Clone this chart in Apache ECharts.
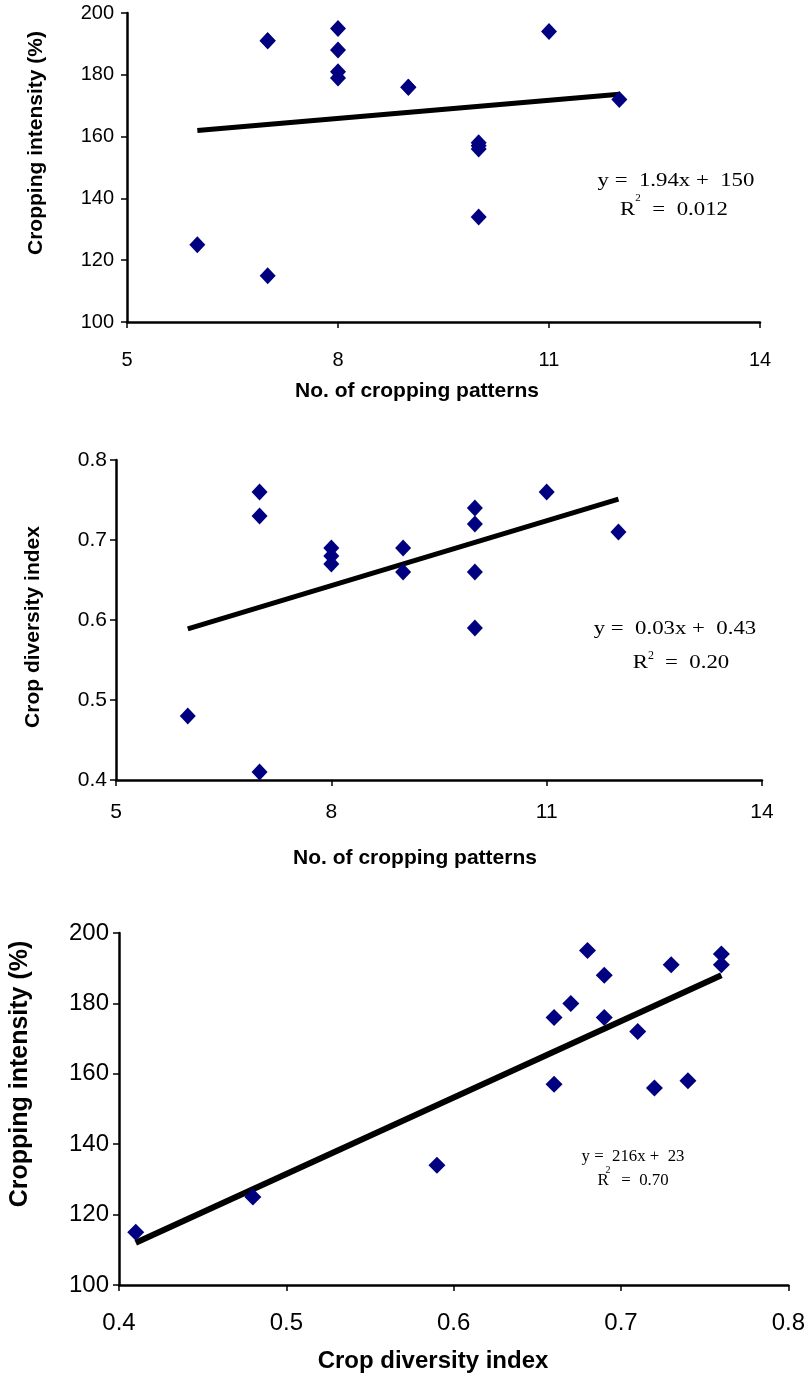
<!DOCTYPE html>
<html>
<head>
<meta charset="utf-8">
<script src="https://cdn.jsdelivr.net/npm/echarts@6/dist/echarts.min.js"></script>
<style>
html,body{margin:0;padding:0;background:#fff;}
#c{width:808px;height:1377px;}
</style>
</head>
<body>
<div id="c"></div>
<script>
// Chart 1: No. of cropping patterns vs Cropping intensity (%)
const patterns1 = [6, 7, 7, 7, 8, 8, 8, 8, 9, 9, 10, 10, 10, 10, 11, 12];
const intensity1 = [125, 191, 191, 115, 195, 188, 181, 179, 176, 176, 158, 157, 156, 134, 194, 172];
const trend1X = [6, 12];
const trend1Y = [162, 173.7];

// Chart 2: No. of cropping patterns vs Crop diversity index
const patterns2 = [6, 7, 7, 7, 8, 8, 8, 9, 9, 10, 10, 10, 10, 11, 12];
const diversity2 = [0.48, 0.76, 0.73, 0.41, 0.69, 0.68, 0.67, 0.69, 0.66, 0.74, 0.72, 0.66, 0.59, 0.76, 0.71];
const trend2X = [6, 12];
const trend2Y = [0.589, 0.751];

// Chart 3: Crop diversity index vs Cropping intensity (%)
const diversity3 = [0.41, 0.48, 0.59, 0.66, 0.66, 0.67, 0.68, 0.69, 0.69, 0.71, 0.72, 0.73, 0.74, 0.76, 0.76];
const intensity3 = [115, 125, 134, 176, 157, 180, 195, 188, 176, 172, 156, 191, 158, 194, 191];
const trend3X = [0.41, 0.76];
const trend3Y = [112, 188];

const xTicks12 = [5, 8, 11, 14];
const yTicks1 = [100, 120, 140, 160, 180, 200];
const yTicks2 = [0.4, 0.5, 0.6, 0.7, 0.8];
const xTicks3 = [0.4, 0.5, 0.6, 0.7, 0.8];

const zip = (a, b) => a.map((v, i) => [v, b[i]]);

const SANS = 'Liberation Sans, Arial, sans-serif';
const SERIF = 'Liberation Serif, Times New Roman, serif';
const NAVY = '#000080';

function axisCommon(fontSize, margin) {
  return {
    type: 'value',
    splitLine: { show: false },
    axisLine: { show: true, onZero: false, lineStyle: { color: '#000', width: 2.5 } },
    axisTick: { show: true, length: 6, lineStyle: { color: '#000', width: 1.5 } },
    axisLabel: { color: '#000', fontFamily: SANS, fontSize: fontSize, margin: margin }
  };
}

function mk(base, extra) { return Object.assign({}, base, extra, { axisLabel: Object.assign({}, base.axisLabel, extra.axisLabel || {}) }); }

const option = {
  backgroundColor: '#fff',
  animation: false,
  grid: [
    { left: 127, top: 13, width: 633, height: 309 },
    { left: 116, top: 460, width: 646, height: 320 },
    { left: 119, top: 933, width: 674, height: 352 }
  ],
  xAxis: [
    mk(axisCommon(20, 28), { gridIndex: 0, min: xTicks12[0], max: xTicks12[xTicks12.length - 1], interval: 3 }),
    mk(axisCommon(21, 22), { gridIndex: 1, min: xTicks12[0], max: xTicks12[xTicks12.length - 1], interval: 3 }),
    mk(axisCommon(24, 26), { gridIndex: 2, min: xTicks3[0], max: xTicks3[xTicks3.length - 1], interval: 0.1, axisLabel: { formatter: v => v.toFixed(1) } })
  ],
  yAxis: [
    mk(axisCommon(20, 13), { gridIndex: 0, min: yTicks1[0], max: yTicks1[yTicks1.length - 1], interval: 20 }),
    mk(axisCommon(21, 9), { gridIndex: 1, min: yTicks2[0], max: yTicks2[yTicks2.length - 1], interval: 0.1, axisLabel: { formatter: v => v.toFixed(1) } }),
    mk(axisCommon(24, 10), { gridIndex: 2, min: yTicks1[0], max: yTicks1[yTicks1.length - 1], interval: 20 })
  ],
  series: [
    { type: 'line', xAxisIndex: 0, yAxisIndex: 0, data: zip(trend1X, trend1Y), showSymbol: false, lineStyle: { color: '#000', width: 5 }, z: 2 },
    { type: 'scatter', xAxisIndex: 0, yAxisIndex: 0, data: zip(patterns1, intensity1), symbol: 'diamond', symbolSize: [16, 17], itemStyle: { color: NAVY, opacity: 1 }, z: 3 },
    { type: 'line', xAxisIndex: 1, yAxisIndex: 1, data: zip(trend2X, trend2Y), showSymbol: false, lineStyle: { color: '#000', width: 5 }, z: 2 },
    { type: 'scatter', xAxisIndex: 1, yAxisIndex: 1, data: zip(patterns2, diversity2), symbol: 'diamond', symbolSize: [16, 17], itemStyle: { color: NAVY, opacity: 1 }, z: 3 },
    { type: 'line', xAxisIndex: 2, yAxisIndex: 2, data: zip(trend3X, trend3Y), showSymbol: false, lineStyle: { color: '#000', width: 6 }, z: 2 },
    { type: 'scatter', xAxisIndex: 2, yAxisIndex: 2, data: zip(diversity3, intensity3), symbol: 'diamond', symbolSize: [17, 17], itemStyle: { color: NAVY, opacity: 1 }, z: 3 }
  ],
  graphic: [
    // axis titles
    { type: 'text', x: 417, y: 391, style: { text: 'No. of cropping patterns', font: 'bold 21px ' + SANS, fill: '#000', align: 'center', verticalAlign: 'middle' } },
    { type: 'text', x: 36, y: 143, rotation: Math.PI / 2, style: { text: 'Cropping intensity (%)', font: 'bold 21px ' + SANS, fill: '#000', align: 'center', verticalAlign: 'middle' } },
    { type: 'text', x: 415, y: 858, style: { text: 'No. of cropping patterns', font: 'bold 21px ' + SANS, fill: '#000', align: 'center', verticalAlign: 'middle' } },
    { type: 'text', x: 33, y: 627, rotation: Math.PI / 2, style: { text: 'Crop diversity index', font: 'bold 21px ' + SANS, fill: '#000', align: 'center', verticalAlign: 'middle' } },
    { type: 'text', x: 433, y: 1361, style: { text: 'Crop diversity index', font: 'bold 24px ' + SANS, fill: '#000', align: 'center', verticalAlign: 'middle' } },
    { type: 'text', x: 20, y: 1074, rotation: Math.PI / 2, style: { text: 'Cropping intensity (%)', font: 'bold 25px ' + SANS, fill: '#000', align: 'center', verticalAlign: 'middle' } },
    // regression equations
    { type: 'text', x: 676, y: 181, scaleX: 1.2, style: { text: 'y =  1.94x +  150', font: '19px ' + SERIF, fill: '#000', align: 'center', verticalAlign: 'middle' } },
    { type: 'text', x: 674, y: 210, scaleX: 1.2, style: { text: 'R   =  0.012', font: '19px ' + SERIF, fill: '#000', align: 'center', verticalAlign: 'middle' } },
    { type: 'text', x: 638, y: 198, style: { text: '2', font: '11px ' + SERIF, fill: '#000', align: 'center', verticalAlign: 'middle' } },
    { type: 'text', x: 675, y: 629, scaleX: 1.2, style: { text: 'y =  0.03x +  0.43', font: '19px ' + SERIF, fill: '#000', align: 'center', verticalAlign: 'middle' } },
    { type: 'text', x: 681, y: 663, scaleX: 1.2, style: { text: 'R   =  0.20', font: '19px ' + SERIF, fill: '#000', align: 'center', verticalAlign: 'middle' } },
    { type: 'text', x: 651, y: 656, style: { text: '2', font: '12px ' + SERIF, fill: '#000', align: 'center', verticalAlign: 'middle' } },
    { type: 'text', x: 633, y: 1157, scaleX: 1.05, style: { text: 'y =  216x +  23', font: '16px ' + SERIF, fill: '#000', align: 'center', verticalAlign: 'middle' } },
    { type: 'text', x: 633, y: 1181, scaleX: 1.05, style: { text: 'R   =  0.70', font: '16px ' + SERIF, fill: '#000', align: 'center', verticalAlign: 'middle' } },
    { type: 'text', x: 608, y: 1170, style: { text: '2', font: '10px ' + SERIF, fill: '#000', align: 'center', verticalAlign: 'middle' } }
  ]
};

const chart = echarts.init(document.getElementById('c'), null, { renderer: 'canvas' });
chart.setOption(option);
</script>
</body>
</html>
